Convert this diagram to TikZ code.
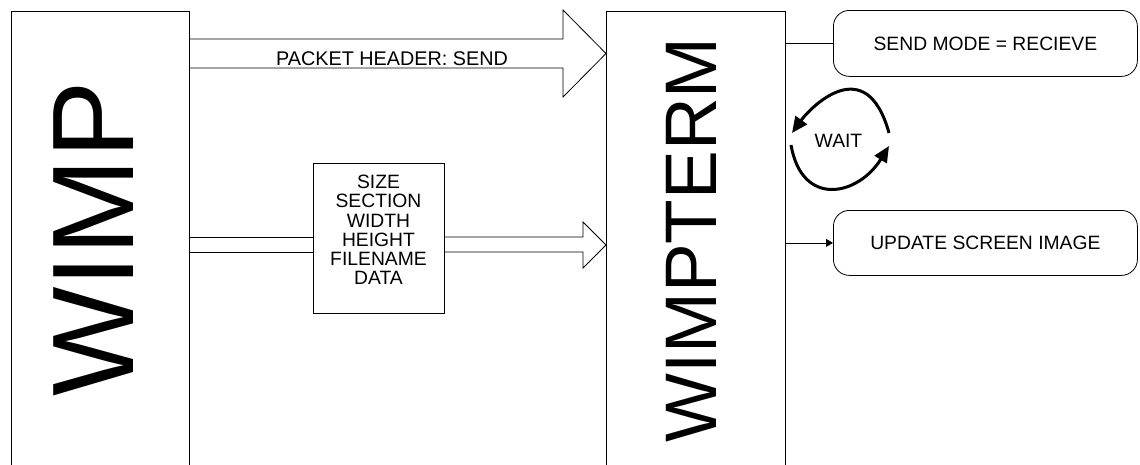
\documentclass[tikz,border=0pt]{standalone}
\usepackage{fontspec}
\setmainfont{Liberation Sans}
\usetikzlibrary{arrows.meta,calc}

\begin{document}
\begin{tikzpicture}[x=1pt,y=-1pt,
  box/.style={draw=black,line width=0.8pt,inner sep=0pt,anchor=north west},
  pill/.style={box,rounded corners=16pt,font=\fontsize{19.3}{19.3}\selectfont},
  lbl/.style={font=\fontsize{19.3}{19.3}\selectfont,inner sep=0pt},
  block/.style={draw=black,line width=0.8pt,line join=miter},
  link/.style={draw=black,line width=0.8pt},
  waitarc/.style={line width=3pt,-{Triangle[length=16pt,width=14pt]}},
]
\clip (0,0) rectangle (1140,464);

% the two programs, as tall boxes running off the bottom edge
\node[box,minimum width=178.5pt,minimum height=480pt] (wimp) at (10.5,10.5) {};
\node[box,minimum width=179pt,minimum height=480pt] (term) at (606,10.5) {};
\node[rotate=90,font=\fontsize{116}{116}\selectfont,inner sep=0pt] (wimplbl) at (93.5,239) {WIMP};
\node[rotate=90,font=\fontsize{73}{73}\selectfont,inner sep=0pt] (termlbl) at (691,240) {WIMPTERM};

% packet fields box
\node[box,minimum width=131pt,minimum height=150pt] (data) at (313,163) {};
\node[lbl,align=center] (fields) at (378.5,230) {SIZE\\SECTION\\WIDTH\\HEIGHT\\FILENAME\\DATA};

% states on the terminal side
\node[pill,minimum width=304pt,minimum height=66pt] (send) at (833,10) {SEND MODE = RECIEVE};
\node[pill,minimum width=304pt,minimum height=65pt] (update) at (833,210) {UPDATE SCREEN IMAGE};

% header block arrow
\draw[block] (wimp.east |- 0,39) -- (563,39) -- (563,10) -- (term.west |- 0,53.5)
  -- (563,97) -- (563,68) -- (wimp.east |- 0,68);
\node[lbl,font=\fontsize{19.8}{19.8}\selectfont] (hdr) at (392,58.5) {PACKET HEADER: SEND};

% data block arrow, passing through the fields box
\draw[block] (wimp.east |- 0,237) -- (data.west |- 0,237);
\draw[block] (wimp.east |- 0,252) -- (data.west |- 0,252);
\draw[block] (data.east |- 0,237) -- (583,237) -- (583,222) -- (term.west |- 0,245)
  -- (583,268) -- (583,252) -- (data.east |- 0,252);

% terminal connectors
\draw[link] (term.east |- send.west) -- (send.west);
\draw[link,-{Triangle[length=7pt,width=8pt]}] (term.east |- update.west) -- (update.west);

% wait loop
\node[lbl] (wait) at (838.5,141) {WAIT};
\coordinate (loopA) at (889,133);
\coordinate (loopB) at (792,133);
\coordinate (loopC) at (791,145);
\coordinate (loopD) at (889,146);
\draw[waitarc] (loopA) .. controls (866,50) and (810,108) .. (loopB);
\draw[waitarc] (loopC) .. controls (802,208) and (858,196) .. (loopD);
\end{tikzpicture}
\end{document}
